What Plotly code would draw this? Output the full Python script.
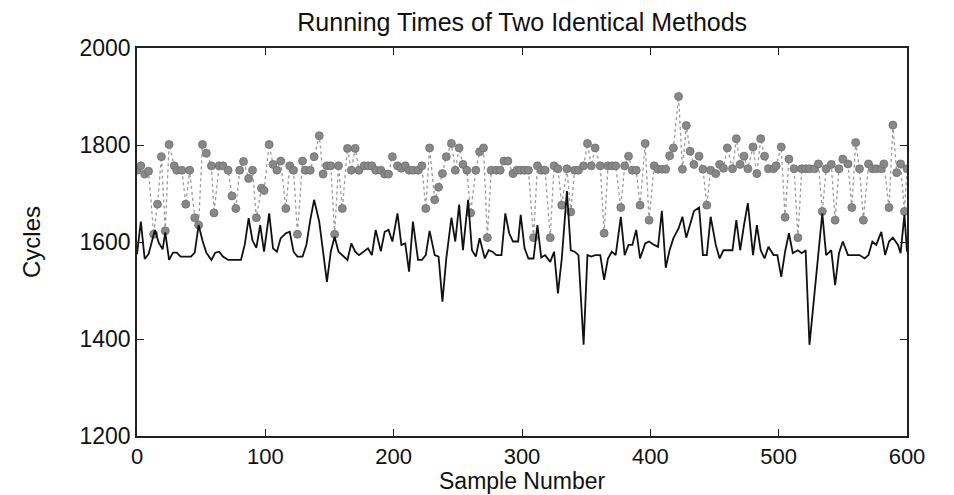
import plotly.graph_objects as go

# Method A (black line): sample number and cycles
black_samples = [0, 3, 6, 9, 12, 14, 17, 20, 22, 25, 28, 31, 34, 38, 42, 45, 48, 51, 54, 58, 61, 64, 67, 71, 74, 77, 81, 84, 87, 90, 93, 96, 99,
                 103, 106, 109, 112, 116, 119, 122, 125, 129, 132, 135, 138, 142, 145, 148, 151, 154, 157, 160, 164, 167, 170, 173, 177, 180, 183, 186, 190, 193, 196, 199,
                 203, 206, 209, 212, 215, 219, 222, 225, 228, 232, 235, 238, 241, 245, 248, 251, 254, 258, 261, 264, 267, 271, 274, 277, 280, 284, 287, 290, 293, 297, 299,
                 302, 305, 309, 312, 315, 318, 322, 325, 328, 331, 335, 338, 341, 344, 348, 351, 354, 357, 361, 364, 367, 370, 373, 377, 380, 383, 386, 389, 392, 396, 399,
                 403, 406, 409, 412, 415, 418, 422, 425, 428, 431, 434, 438, 441, 444, 447, 451, 454, 457, 460, 464, 467, 470, 473, 476, 480, 483, 486, 489, 492, 496,
                 499, 502, 505, 508, 511, 515, 518, 521, 524, 529, 534, 537, 541, 544, 547, 550, 554, 557, 560, 563, 567, 570, 573, 576, 580, 583, 586, 589, 593, 595, 598, 600]
black_cycles = [1575, 1642, 1565, 1575, 1605, 1625, 1598, 1585, 1620, 1563, 1578, 1578, 1570, 1570, 1570, 1578, 1635, 1603, 1578, 1563, 1578, 1580, 1570, 1563, 1563, 1563, 1563, 1595, 1649, 1603, 1588, 1635, 1580,
                1659, 1587, 1580, 1608, 1618, 1621, 1580, 1570, 1570, 1594, 1645, 1687, 1642, 1580, 1518, 1580, 1611, 1580, 1573, 1563, 1597, 1580, 1573, 1580, 1587, 1573, 1625, 1581, 1621, 1625, 1601,
                1659, 1594, 1597, 1539, 1642, 1563, 1563, 1573, 1623, 1573, 1570, 1477, 1566, 1650, 1601, 1677, 1583, 1687, 1583, 1570, 1608, 1566, 1583, 1580, 1573, 1573, 1659, 1618, 1601, 1601, 1656,
                1587, 1566, 1566, 1635, 1568, 1573, 1559, 1580, 1494, 1566, 1705, 1583, 1580, 1573, 1388, 1573, 1570, 1573, 1573, 1522, 1566, 1580, 1573, 1652, 1573, 1594, 1594, 1625, 1566, 1597, 1601,
                1594, 1590, 1664, 1547, 1583, 1608, 1628, 1652, 1609, 1635, 1664, 1671, 1573, 1573, 1652, 1594, 1566, 1583, 1583, 1583, 1645, 1583, 1635, 1680, 1573, 1635, 1583, 1566, 1590, 1573,
                1573, 1528, 1580, 1618, 1577, 1583, 1577, 1583, 1388, 1522, 1659, 1573, 1583, 1511, 1577, 1601, 1573, 1573, 1573, 1573, 1566, 1573, 1601, 1594, 1621, 1573, 1601, 1609, 1594, 1577, 1656, 1580]

# Method B (gray markers, dotted line)
gray_samples = [0, 3, 6, 9, 13, 16, 19, 22, 25, 29, 31, 35, 38, 41, 45, 48, 51, 54, 58, 60, 64, 67, 71, 74, 77, 80, 83, 87, 90, 93, 97, 99,
                103, 106, 109, 112, 116, 119, 122, 125, 129, 131, 135, 138, 142, 145, 148, 151, 154, 157, 160, 164, 167, 170, 173, 177, 180, 183, 186, 190, 193, 196, 199,
                203, 206, 209, 212, 215, 219, 222, 225, 228, 232, 235, 238, 241, 245, 248, 251, 254, 257, 260, 264, 267, 270, 273, 276, 280, 283, 286, 289, 293, 296, 299,
                302, 305, 309, 312, 315, 318, 322, 325, 328, 331, 335, 338, 341, 344, 348, 351, 354, 357, 361, 364, 367, 370, 373, 377, 380, 383, 386, 389, 392, 396, 399,
                403, 406, 409, 412, 415, 418, 422, 425, 428, 431, 434, 438, 441, 444, 447, 451, 454, 457, 460, 464, 467, 470, 473, 476, 480, 483, 486, 489, 492, 496,
                498, 502, 505, 508, 512, 515, 518, 521, 524, 528, 531, 534, 537, 541, 544, 547, 550, 554, 557, 560, 563, 566, 570, 573, 576, 580, 582, 586, 589, 592, 595, 598, 600]
gray_cycles = [1748, 1757, 1740, 1746, 1616, 1678, 1776, 1623, 1801, 1757, 1748, 1748, 1678, 1748, 1650, 1635, 1801, 1783, 1757, 1660, 1757, 1757, 1748, 1695, 1669, 1748, 1766, 1731, 1748, 1650, 1711, 1706,
               1801, 1760, 1748, 1767, 1669, 1757, 1748, 1616, 1767, 1748, 1748, 1776, 1819, 1740, 1757, 1757, 1616, 1757, 1669, 1793, 1748, 1793, 1748, 1757, 1757, 1757, 1748, 1748, 1740, 1740, 1776,
               1757, 1752, 1757, 1748, 1748, 1748, 1757, 1669, 1794, 1687, 1713, 1741, 1776, 1803, 1748, 1794, 1760, 1748, 1660, 1748, 1786, 1794, 1609, 1748, 1748, 1748, 1767, 1767, 1741, 1748, 1748,
               1748, 1748, 1609, 1757, 1748, 1748, 1609, 1757, 1751, 1676, 1751, 1662, 1748, 1748, 1757, 1803, 1757, 1794, 1757, 1618, 1757, 1757, 1757, 1671, 1757, 1777, 1748, 1748, 1676, 1803, 1645,
               1757, 1750, 1750, 1750, 1778, 1794, 1900, 1750, 1840, 1787, 1760, 1777, 1750, 1676, 1748, 1741, 1760, 1752, 1794, 1751, 1813, 1760, 1777, 1751, 1796, 1741, 1813, 1777, 1751, 1751,
               1757, 1796, 1651, 1771, 1751, 1609, 1751, 1751, 1751, 1751, 1761, 1663, 1751, 1760, 1645, 1751, 1771, 1761, 1671, 1805, 1751, 1645, 1761, 1751, 1751, 1751, 1761, 1671, 1841, 1743, 1761, 1663, 1751]

x_ticks = [0, 100, 200, 300, 400, 500, 600]
y_ticks = [1200, 1400, 1600, 1800, 2000]

fig = go.Figure()
fig.add_trace(go.Scatter(
    x=gray_samples, y=gray_cycles, mode="lines+markers",
    line=dict(color="#9a9a9a", width=1.3, dash="dot"),
    marker=dict(size=8, color="#888888", line=dict(color="#6e6e6e", width=0.8)),
    showlegend=False))
fig.add_trace(go.Scatter(
    x=black_samples, y=black_cycles, mode="lines",
    line=dict(color="#111111", width=1.8),
    showlegend=False))

font_family = "Liberation Sans, Arial, Helvetica, sans-serif"
fig.update_layout(
    width=954, height=495,
    margin=dict(l=129, r=55, t=40, b=67),
    paper_bgcolor="white", plot_bgcolor="white",
    font=dict(family=font_family, size=23, color="#111111"),
    title=dict(text="Running Times of Two Identical Methods", x=0.539, xanchor="center",
               y=0.972, yanchor="middle", font=dict(size=25, color="#111111")),
    annotations=[dict(text="Sample Number", xref="paper", yref="paper", x=0.5, y=-0.116,
                      xanchor="center", yanchor="middle", showarrow=False,
                      font=dict(size=23, color="#111111"))],
)
fig.update_xaxes(
    range=[0, 600], tickvals=x_ticks, ticks="inside", ticklen=7, tickwidth=1.2, tickcolor="#222",
    showline=True, linecolor="#222", linewidth=1.5, mirror="allticks", showgrid=False, zeroline=False,
    tickfont=dict(size=22))
fig.update_yaxes(
    range=[1200, 2000], tickvals=y_ticks, ticks="inside", ticklen=7, tickwidth=1.2, tickcolor="#222",
    showline=True, linecolor="#222", linewidth=1.5, mirror="allticks", showgrid=False, zeroline=False,
    title=dict(text="Cycles", standoff=32, font=dict(size=24)), tickfont=dict(size=23))

fig.write_html("out.html")
